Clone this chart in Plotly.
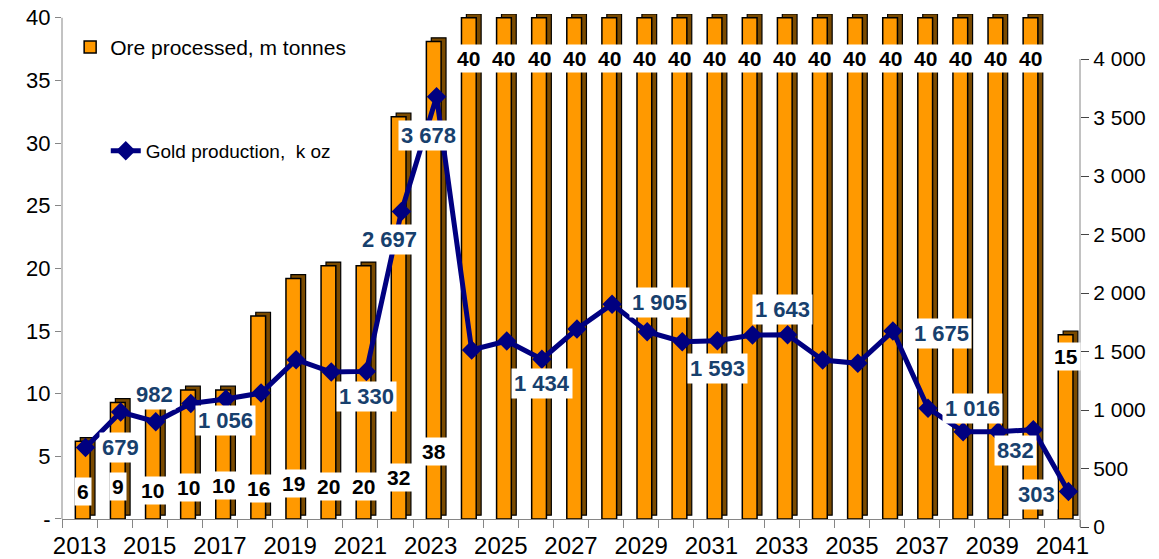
import plotly.graph_objects as go

# ---------------- data ----------------
years = [2013, 2014, 2015, 2016, 2017, 2018, 2019, 2020, 2021, 2022, 2023, 2024, 2025, 2026, 2027,
         2028, 2029, 2030, 2031, 2032, 2033, 2034, 2035, 2036, 2037, 2038, 2039, 2040, 2041]
ore_mt = [6.2, 9.3, 9.7, 10.3, 10.3, 16.2, 19.2, 20.2, 20.2, 32.1, 38.1, 40, 40, 40, 40,
          40, 40, 40, 40, 40, 40, 40, 40, 40, 40, 40, 40, 40, 14.7]
gold_koz = [679, 982, 900, 1056, 1094, 1145, 1430, 1325, 1330, 2697, 3678, 1513, 1590, 1434, 1692,
            1905, 1669, 1584, 1593, 1641, 1643, 1427, 1399, 1675, 1016, 815, 815, 832, 303]
gold_labelled_years = [2013, 2014, 2016, 2021, 2022, 2023, 2026, 2028, 2031, 2033, 2036, 2037, 2040, 2041]
x_tick_years = [2013, 2015, 2017, 2019, 2021, 2023, 2025, 2027, 2029, 2031, 2033, 2035, 2037, 2039, 2041]
left_tick_vals = [0, 5, 10, 15, 20, 25, 30, 35, 40]
left_tick_text = ["-", "5", "10", "15", "20", "25", "30", "35", "40"]
right_tick_vals = [0, 500, 1000, 1500, 2000, 2500, 3000, 3500, 4000]

ore_name = "Ore processed, m tonnes"
gold_name = "Gold production, \u00a0k oz"

# ---------------- styles ----------------
ORANGE = "#FF9900"
SIDE = "#7A4A00"
NAVY = "#000080"
LBLBLUE = "#17406D"
AXIS = "#868686"
FONT = "Liberation Sans, Arial, sans-serif"

BAR_OFF = -0.12
BAR_W = 0.42
DEPTH_X = 0.14
DEPTH_Y = 0.3
LINE_SHIFT = 0.17

# bar label placement: ('base', px above axis) or ('top', px below bar top)
bar_label_place = {2013: ("base", 27), 2014: ("base", 32), 2015: ("base", 28), 2016: ("base", 31),
                   2017: ("base", 33), 2018: ("base", 30), 2019: ("base", 35), 2020: ("base", 32),
                   2021: ("base", 32), 2022: ("base", 41), 2023: ("base", 67), 2041: ("top", -22)}
# gold label offsets (dx, dy) in px, dy positive = down
gold_label_off = {2013: (35, 0), 2014: (34, -18), 2016: (35, 17), 2021: (0, 25), 2022: (-12, 28),
                  2023: (-8, 39), 2026: (0, 24), 2028: (47, -2), 2031: (0, 28), 2033: (-5, -25),
                  2036: (49, 2), 2037: (44, 0), 2040: (-18, 21), 2041: (-32, 3)}

fig = go.Figure()

# depth / shadow of the columns
fig.add_trace(go.Bar(
    x=years, y=ore_mt, base=DEPTH_Y, offset=BAR_OFF + DEPTH_X, width=BAR_W,
    marker=dict(color=SIDE, line=dict(color="black", width=1.2)),
    showlegend=False, hoverinfo="skip",
))
# front face of columns
fig.add_trace(go.Bar(
    x=years, y=ore_mt, offset=BAR_OFF, width=BAR_W, name=ore_name,
    marker=dict(color=ORANGE, line=dict(color="black", width=1.5)),
    legend="legend",
))
# gold line
fig.add_trace(go.Scatter(
    x=[y + LINE_SHIFT for y in years], y=gold_koz, yaxis="y2", name=gold_name,
    mode="lines+markers",
    line=dict(color=NAVY, width=5),
    marker=dict(symbol="diamond", size=15, color=NAVY),
    legend="legend2",
))

annotations = []
for yr, v in zip(years, ore_mt):
    kind, sh = bar_label_place.get(yr, ("top", -41))
    annotations.append(dict(
        x=yr + BAR_OFF + BAR_W / 2, xref="x", yref="y",
        y=0 if kind == "base" else v, yshift=sh,
        text=f"<b>{round(v)}</b>", showarrow=False,
        font=dict(family=FONT, size=21, color="black"),
        bgcolor="white", borderpad=2,
    ))
for yr, g in zip(years, gold_koz):
    if yr not in gold_labelled_years:
        continue
    dx, dy = gold_label_off[yr]
    txt = f"{g:,}".replace(",", "\u00a0")
    annotations.append(dict(
        x=yr + LINE_SHIFT, y=g, xref="x", yref="y2", xshift=dx, yshift=-dy,
        text=f"<b>{txt}</b>", showarrow=False,
        font=dict(family=FONT, size=22, color=LBLBLUE),
        bgcolor="white", borderpad=2,
    ))

# axis lines spanning only the labelled ranges
shapes = [
    dict(type="line", xref="paper", x0=0, x1=0, yref="y",
         y0=left_tick_vals[0], y1=left_tick_vals[-1], line=dict(color=AXIS, width=1)),
    dict(type="line", xref="paper", x0=1, x1=1, yref="y2",
         y0=right_tick_vals[0], y1=right_tick_vals[-1], line=dict(color=AXIS, width=1)),
]

# plot area spans y 14..527 px; left-axis zero sits 8 px above the bottom,
# right-axis zero sits at the bottom (as in the original two-axis layout)
fig.update_layout(
    width=1159, height=559,
    margin=dict(l=62, r=79, t=14, b=32, autoexpand=False),
    paper_bgcolor="white", plot_bgcolor="white",
    barmode="overlay",
    separators=". ",
    font=dict(family=FONT, color="black"),
    annotations=annotations,
    shapes=shapes,
    xaxis=dict(
        range=[2012.5, 2041.5], tickmode="array", tickvals=x_tick_years,
        ticktext=[str(t) for t in x_tick_years], ticks="", showgrid=False, zeroline=False,
        anchor="free", position=8 / 513,
        showline=True, linecolor=AXIS, linewidth=1, automargin=False,
        ticklabelstandoff=5,
        tickfont=dict(family=FONT, size=24, color="black"),
        minor=dict(ticks="outside", tick0=2012.5, dtick=1, ticklen=8, tickcolor=AXIS, showgrid=False),
    ),
    yaxis=dict(
        range=[-0.64, 40.3], tickmode="array", tickvals=left_tick_vals, ticktext=left_tick_text,
        ticks="outside", ticklen=6, tickcolor=AXIS, showgrid=False, zeroline=False,
        showline=False, automargin=False,
        tickfont=dict(family=FONT, size=22, color="black"),
    ),
    yaxis2=dict(
        range=[0, 4385], overlaying="y", side="right", tickmode="array",
        tickvals=right_tick_vals, tickformat=",d",
        ticks="outside", ticklen=8, tickcolor="#444", showgrid=False, zeroline=False,
        showline=False, automargin=False,
        tickfont=dict(family=FONT, size=21, color="black"),
    ),
    legend=dict(x=0.008, y=0.975, xanchor="left", yanchor="top", bgcolor="rgba(0,0,0,0)",
                font=dict(family=FONT, size=21, color="black")),
    legend2=dict(x=0.043, y=0.77, xanchor="left", yanchor="top", bgcolor="rgba(0,0,0,0)",
                 font=dict(family=FONT, size=19, color="black")),
)

fig.write_html("out.html", config={"displayModeBar": False},
               post_script="document.body.style.margin='0';")
